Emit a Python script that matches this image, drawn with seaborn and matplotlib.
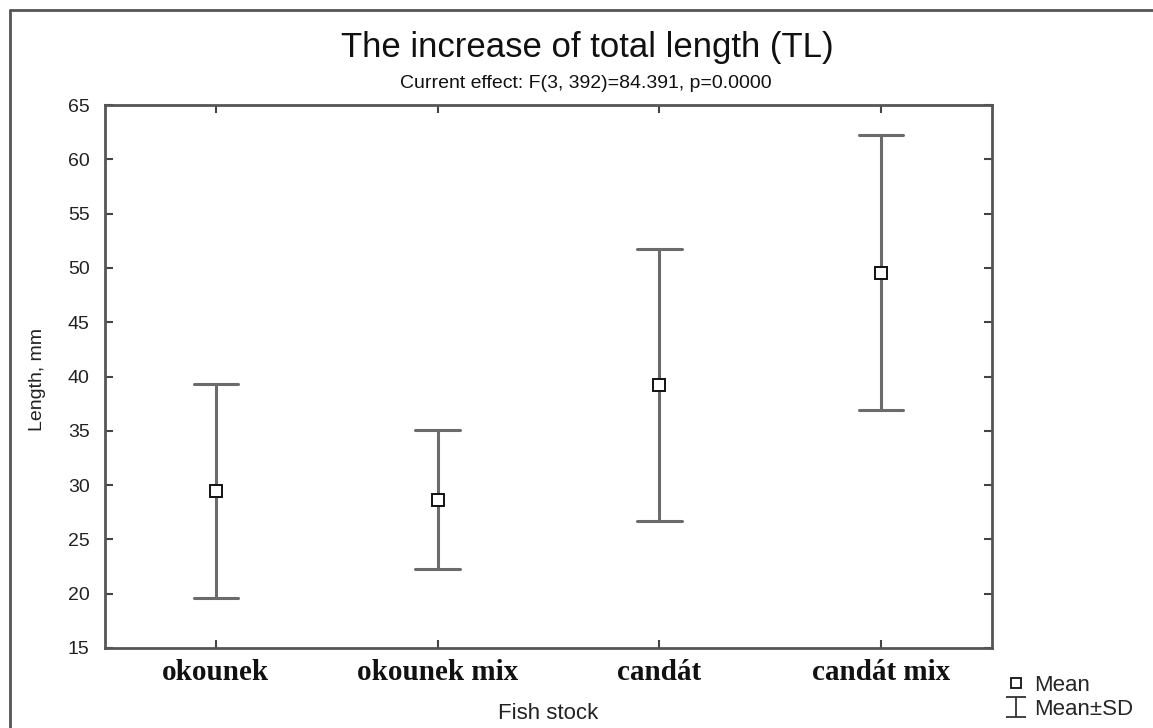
import numpy as np
import pandas as pd
import matplotlib
matplotlib.use("Agg")
import matplotlib.pyplot as plt
from matplotlib.lines import Line2D
from matplotlib.path import Path
import seaborn as sns

# ---- data ----
categories = ["okounek", "okounek mix", "candát", "candát mix"]
means = [29.5, 28.65, 39.2, 49.55]
sds = [9.85, 6.4, 12.5, 12.65]
y_ticks = [15, 20, 25, 30, 35, 40, 45, 50, 55, 60, 65]

title = "The increase of total length (TL)"
subtitle = "Current effect: F(3, 392)=84.391, p=0.0000"

# long table: mean-SD and mean+SD per stock -> estimator mean, interval = full range
rows = []
for c, m, s in zip(categories, means, sds):
    rows.append({"stock": c, "length": m - s})
    rows.append({"stock": c, "length": m + s})
df = pd.DataFrame(rows)

sns.set_theme(style="white")
plt.rcParams["font.family"] = ["Liberation Sans", "DejaVu Sans"]

W, H = 1153, 728
fig = plt.figure(figsize=(W / 100, H / 100), dpi=100)
ax = fig.add_axes([105 / W, 1 - 648 / H, (992 - 105) / W, (648 - 105) / H])

err_col = "#6b6b6b"
sns.pointplot(data=df, x="stock", y="length", order=categories,
              estimator="mean", errorbar=("pi", 100), capsize=0.2,
              linestyle="none", marker="s", markersize=8.5,
              color=err_col, err_kws={"linewidth": 2.2}, ax=ax)

for ln in ax.lines:
    if ln.get_marker() == "s":
        ln.set_markerfacecolor("white")
        ln.set_markeredgecolor("#111111")
        ln.set_markeredgewidth(1.4)
        ln.set_zorder(5)

ax.set_ylim(15, 65)
ax.set_xlim(-0.5, 3.5)
ax.set_yticks(y_ticks)
ax.set_yticklabels([str(t) for t in y_ticks])
ax.set_xlabel("Fish stock", fontsize=16, color="#222222")
ax.set_ylabel("Length, mm", fontsize=14, color="#222222")
ax.xaxis.set_label_coords(0.5, (648 - 703) / 543)
ax.yaxis.set_label_coords((46 - 105) / 887, 0.495)

for lab in ax.get_xticklabels():
    lab.set_fontfamily(["Liberation Serif", "DejaVu Serif"])
    lab.set_fontweight("bold")
    lab.set_fontsize(21)
    lab.set_color("#111111")

ax.tick_params(axis="y", direction="in", length=6, width=1.5, colors="#444444",
               labelsize=14, labelcolor="#222222", pad=11, right=True, left=True)
ax.tick_params(axis="x", direction="in", length=6, width=1.5, colors="#444444",
               labelcolor="#111111", pad=8, top=True, bottom=True)

for sp in ax.spines.values():
    sp.set_visible(True)
    sp.set_color("#555555")
    sp.set_linewidth(2)

fig.text(587 / W, 1 - 47 / H, title, ha="center", va="center", fontsize=25, color="#111111")
fig.text(586 / W, 1 - 83 / H, subtitle, ha="center", va="center", fontsize=14, color="#111111")

# outer frame (left and top edges visible)
fig.add_artist(Line2D([10 / W, 10 / W], [0, 1 - 10 / H], transform=fig.transFigure,
                      color="#555555", linewidth=2))
fig.add_artist(Line2D([10 / W, 1], [1 - 10 / H, 1 - 10 / H], transform=fig.transFigure,
                      color="#555555", linewidth=2))

# legend
ibar = Path([(-1, 1), (1, 1), (0, 1), (0, -1), (-1, -1), (1, -1)],
            [Path.MOVETO, Path.LINETO, Path.MOVETO, Path.LINETO, Path.MOVETO, Path.LINETO])
handles = [
    Line2D([], [], marker="s", linestyle="none", markersize=6.5, markerfacecolor="white",
           markeredgecolor="#111111", markeredgewidth=1.3),
    Line2D([], [], marker=ibar, linestyle="none", markersize=15, markerfacecolor="none",
           markeredgecolor="#333333", markeredgewidth=1.3),
]
fig.legend(handles, ["Mean", "Mean±SD"], loc="upper left",
           bbox_to_anchor=(1006 / W, 1 - 675 / H), frameon=False, fontsize=16,
           handlelength=0.9, handletextpad=0.35, labelspacing=0.12, borderaxespad=0,
           borderpad=0)

fig.savefig("out.png", dpi=100)
